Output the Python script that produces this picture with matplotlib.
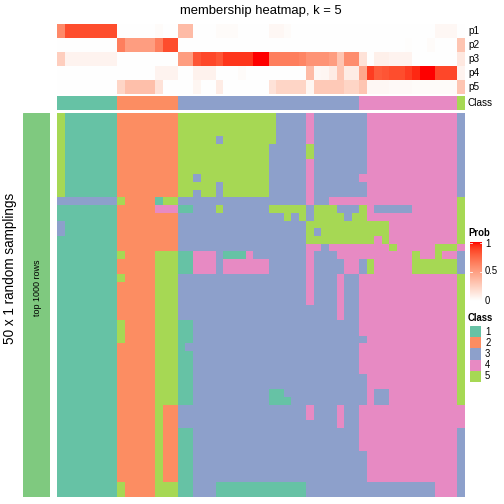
import numpy as np
import matplotlib
matplotlib.use("Agg")
import matplotlib.pyplot as plt
from matplotlib.colors import ListedColormap, LinearSegmentedColormap

plt.rcParams['font.family'] = ['Liberation Sans', 'DejaVu Sans']

title = "membership heatmap, k = 5"
class_labels = ["1", "2", "3", "4", "5"]
class_colors = ["#66C2A5", "#FC8D62", "#8DA0CB", "#E78AC3", "#A6D854"]
prob_names = ["p1", "p2", "p3", "p4", "p5"]

# consensus class of each column (sample)
col_class = [1]*8 + [2]*8 + [3]*24 + [4]*13 + [5]

# membership probabilities per sample
p1 = [0.6] + [0.85]*7 + [0]*5 + [0.02] + [0]*2 + [0.35]*2 + [0]*3 + [0.02]*3 + [0]*4 \
     + [0.04]*2 + [0.02] + [0]*19 + [0.04]*3 + [0]
p2 = [0]*8 + [0.65] + [0.5]*4 + [0.65] + [0.85]*2 + [0]*30 + [0.01] + [0]*2 + [0.02] + [0]*3 + [0.3]
p3 = [0.25] + [0.06]*7 + [0]*8 + [0.5]*2 + [0.82] + [0.87]*2 + [0.82] + [0.92]*4 + [1.0]*2 \
     + [0.65]*4 + [0.62] + [0.55]*3 + [0.5] + [0.3] + [0.58]*2 + [0.15] + [0] + [0.08]*2 \
     + [0.06]*3 + [0]*6 + [0.12]
p4 = [0]*13 + [0.06]*3 + [0]*2 + [0.07]*3 + [0]*3 + [0.02] + [0]*8 + [0.35] + [0.04] + [0.05] \
     + [0.1] + [0.3] + [0.1]*2 + [0.45] + [0.9] + [0.8] + [0.82] + [0.85]*2 + [0.9] + [0.95] \
     + [1.0]*2 + [0.87]*3 + [0.06]
p5 = [0]*8 + [0.22] + [0.33]*4 + [0.15] + [0]*4 + [0.05] + [0]*2 + [0.1] + [0]*6 + [0.15] \
     + [0.22]*4 + [0.05] + [0.28]*4 + [0.22]*2 + [0.3] + [0.04]*3 + [0.03]*3 + [0.02]*6 + [0.3]

# class assignment of each sample in each of the 50 random samplings
sampling_rows = [
    "51111111 22222222 555555555555533334333333 3444444444444 3",
    "51111111 22222222 555555555555533334333333 3444444444444 3",
    "51111111 22222222 555555555555533334333333 3444444444444 3",
    "51111111 22222222 555553555555533334333333 3444444444444 3",
    "51111111 22222222 555555555555333335333333 3444444444444 3",
    "51111111 22222222 555555555555333335333333 3444444444444 3",
    "51111111 22222222 555555555555333334333333 3444444444444 3",
    "51111111 22222222 555555555555333334333333 3444444444444 3",
    "51111111 22222222 553555555555333334333333 4444444444444 3",
    "51111111 22222222 555553555555333334333333 3444444444444 3",
    "51111111 22222222 553553555555333334333333 3444444444444 3",
    "33333333 52222155 333333333333333334334444 4444444444444 5",
    "11111111 22222444 113335333333555553555333 5433333444444 5",
    "11111111 22222222 333333333333335353555535 5444444444444 5",
    "31111111 22222222 333333333333333335555555 5555444444444 5",
    "31111111 22222222 333333333333333335355555 5555444444444 5",
    "11111111 22222222 333333333333333335555555 5545444444444 5",
    "11111111 22222222 333333333333333334434444 4444544444555 4",
    "11111111 52222555 114443111433333334333444 4444444544544 3",
    "11111111 22222555 114443444444333334333344 3544444555555 3",
    "11111111 22222555 114443444444333334333344 3544444555555 3",
    "11111111 52222555 333333333333333334333433 4444444444444 5",
    "11111111 22222555 333333333333333334333433 4444444444444 5",
    "11111111 22222555 333333333333333334333433 4444444444444 5",
    "11111111 22222555 333333333333333334333433 4444444444444 5",
    "11111111 22222555 333333333333333333333433 4444444444444 5",
    "11111111 22222555 333333333333333333333433 4444444444444 5",
    "11111111 52222555 113333333333333333333333 4444444444444 5",
    "11111111 52222555 113333333333333333333333 4444444444444 5",
    "11111111 52222555 113333333333333333333333 3444444444444 5",
    "11111111 22222555 133333333333333333333333 4444444444444 5",
    "11111111 22222555 113333333333333333333333 4444444444444 5",
    "11111111 22222555 113333333333333333333333 4444444444444 5",
    "11111111 22222555 113333333333333333333333 4444444444444 5",
    "11111111 22222555 113333333333333333333333 3444444444444 5",
    "11111111 22222555 113333333333333333333333 3444444444444 5",
    "11111111 22222555 113333333333113333333333 3433444444444 5",
    "11111111 22222555 113333333333111333333333 3433444444444 5",
    "11111111 22222522 333333333333333334333433 4444444444444 4",
    "11111111 22222522 333333333333333334333433 4444444444444 4",
    "11111111 22222522 333333333333333333333433 4444444444444 4",
    "11111111 22222522 113333333333333333333333 4444444444444 3",
    "11111111 22222522 113333333333333333333333 4444444444444 3",
    "11111111 22222522 113333333333333333333333 4444444444444 3",
    "11111111 22222522 113333333333333333333333 3444444444444 3",
    "11111111 22222522 113333333333333333333333 3444444444444 3",
    "11111111 22222522 113333333333333333333333 3444444444444 3",
    "11111111 22222522 113333333333333333333333 3444444444444 3",
    "11111111 52222555 113331111111111113333333 3333333333444 3",
    "11111111 52222555 113331111111111113333333 3333333333444 3",
]

# ---------------------------------------------------------------------------
def _srgb_to_lab(rgb):
    rgb = np.asarray(rgb, float)
    lin = np.where(rgb <= 0.04045, rgb / 12.92, ((rgb + 0.055) / 1.055) ** 2.4)
    M = np.array([[0.4124, 0.3576, 0.1805], [0.2126, 0.7152, 0.0722], [0.0193, 0.1192, 0.9505]])
    xyz = M @ lin / np.array([0.95047, 1.0, 1.08883])
    f = np.where(xyz > 0.008856, np.cbrt(xyz), 7.787 * xyz + 16 / 116)
    return np.array([116 * f[1] - 16, 500 * (f[0] - f[1]), 200 * (f[1] - f[2])])


def _lab_to_srgb(lab):
    L, a, b = lab
    fy = (L + 16) / 116
    fx = fy + a / 500
    fz = fy - b / 200
    f = np.array([fx, fy, fz])
    xyz = np.where(f ** 3 > 0.008856, f ** 3, (f - 16 / 116) / 7.787) * np.array([0.95047, 1.0, 1.08883])
    Mi = np.array([[3.2406, -1.5372, -0.4986], [-0.9689, 1.8758, 0.0415], [0.0557, -0.2040, 1.0570]])
    lin = np.clip(Mi @ xyz, 0, 1)
    rgb = np.where(lin <= 0.0031308, 12.92 * lin, 1.055 * lin ** (1 / 2.4) - 0.055)
    return np.clip(rgb, 0, 1)


lw, lr = _srgb_to_lab([1, 1, 1]), _srgb_to_lab([1, 0, 0])
prob_cmap = LinearSegmentedColormap.from_list(
    "prob", [_lab_to_srgb(lw + t * (lr - lw)) for t in np.linspace(0, 1, 64)])
class_cmap = ListedColormap(class_colors)

W = 504.0
fig = plt.figure(figsize=(7, 7), dpi=72)


def ax_at(x0, y0, x1, y1):
    ax = fig.add_axes([x0 / W, 1 - y1 / W, (x1 - x0) / W, (y1 - y0) / W])
    ax.set_axis_off()
    return ax


def ftext(x, y, s, **kw):
    fig.text(x / W, 1 - y / W, s, **kw)


X0, X1 = 57, 465

# probability annotation
prob = np.array([p1, p2, p3, p4, p5])
ax = ax_at(X0, 24, X1, 94)
ax.imshow(prob, cmap=prob_cmap, vmin=0, vmax=1, aspect="auto", interpolation="nearest")

# class annotation
ax = ax_at(X0, 96, X1, 110)
ax.imshow(np.array([col_class]) - 1, cmap=class_cmap, vmin=-0.5, vmax=4.5,
          aspect="auto", interpolation="nearest")

for i, name in enumerate(prob_names + ["Class"]):
    yc = 24 + 14 * i + 7 if i < 5 else 103
    ftext(468, yc, name, fontsize=10, ha="left", va="center")

# main matrix
mat = np.array([[int(ch) for ch in r.replace(" ", "")] for r in sampling_rows])
ax = ax_at(X0, 113, X1, 497)
ax.imshow(mat - 1, cmap=class_cmap, vmin=-0.5, vmax=4.5, aspect="auto", interpolation="nearest")

# left row slice bar
ax = ax_at(23, 113, 50, 497)
ax.add_patch(plt.Rectangle((0, 0), 1, 1, color="#7FC97F", transform=ax.transAxes))
ftext(37, 288, "top 1000 rows", rotation=90, ha="center", va="center", fontsize=9)

ftext(10, 268, "50 x 1 random samplings", rotation=90, ha="center", va="center", fontsize=13.5)
ftext(261, 11, title, ha="center", va="center", fontsize=13)

# Prob legend
ftext(468, 233, "Prob", fontsize=9.5, fontweight="bold", ha="left", va="center")
ax = ax_at(470, 242, 482, 301)
grad = np.linspace(1, 0, 100).reshape(-1, 1)
ax.imshow(grad, cmap=prob_cmap, vmin=0, vmax=1, aspect="auto", extent=(0, 1, 0, 1))
ax.set_xlim(0, 1)
ax.set_ylim(0, 1)
for v in [0.5, 1.0]:
    yy = min(v, 0.985)
    ax.plot([0, 0.2], [yy, yy], color="white", lw=0.8)
    ax.plot([0.8, 1], [yy, yy], color="white", lw=0.8)
for v, lab in [(1.0, "1"), (0.5, "0.5"), (0.0, "0")]:
    ftext(485, 301 - v * 59 + (2 if v == 1.0 else 0), lab, fontsize=9.5, ha="left", va="center")

# Class legend
ftext(468, 318, "Class", fontsize=9.5, fontweight="bold", ha="left", va="center")
for i, (lab, c) in enumerate(zip(class_labels, class_colors)):
    top = 326 + i * 11.2
    ax = ax_at(470, top, 481, top + 11.2)
    ax.add_patch(plt.Rectangle((0, 0), 1, 1, color=c, transform=ax.transAxes))
    ftext(485, top + 5.6, lab, fontsize=9.5, ha="left", va="center")

fig.savefig("out.png", dpi=72)
